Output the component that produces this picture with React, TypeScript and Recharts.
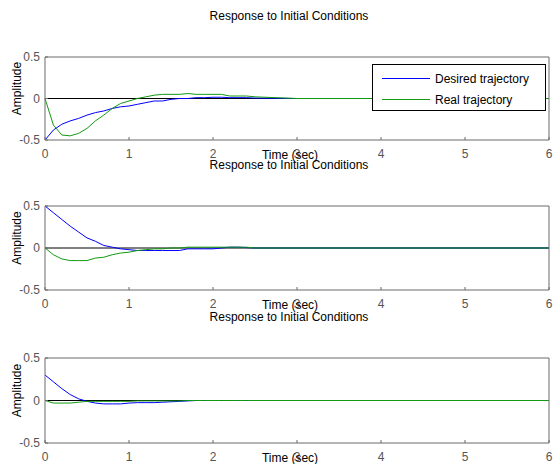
import React from 'react';
import { LineChart, Line, XAxis, YAxis, ReferenceLine } from 'recharts';

const time = [0, 0.1, 0.2, 0.3, 0.4, 0.5, 0.6, 0.7, 0.8, 0.9, 1.0, 1.1, 1.2, 1.3, 1.4, 1.5, 1.6, 1.7, 1.8, 1.9, 2.0, 2.1, 2.2, 2.3, 2.4, 2.5, 3, 4, 5, 6];

const desired1 = [-0.5, -0.38, -0.31, -0.27, -0.24, -0.2, -0.17, -0.15, -0.12, -0.1, -0.09, -0.07, -0.05, -0.03, -0.03, -0.01, 0, 0, 0.01, 0.01, 0.015, 0.015, 0.01, 0.01, 0.01, 0.005, 0, 0, 0, 0];
const real1 = [0, -0.32, -0.44, -0.45, -0.42, -0.36, -0.27, -0.2, -0.12, -0.06, -0.03, 0, 0.02, 0.04, 0.05, 0.05, 0.05, 0.06, 0.05, 0.05, 0.05, 0.05, 0.03, 0.03, 0.03, 0.02, 0, 0, 0, 0];

const desired2 = [0.5, 0.42, 0.34, 0.26, 0.19, 0.12, 0.08, 0.03, 0.01, -0.01, -0.02, -0.03, -0.03, -0.03, -0.03, -0.03, -0.03, -0.01, -0.01, -0.01, -0.01, 0, 0.01, 0.01, 0.005, 0, 0, 0, 0, 0];
const real2 = [0, -0.08, -0.13, -0.15, -0.15, -0.15, -0.12, -0.11, -0.08, -0.06, -0.05, -0.03, -0.02, -0.01, -0.01, 0, 0, 0.01, 0.01, 0.01, 0.01, 0.01, 0.01, 0.01, 0.01, 0, 0, 0, 0, 0];

const desired3 = [0.3, 0.22, 0.14, 0.07, 0.02, -0.01, -0.03, -0.04, -0.04, -0.04, -0.03, -0.025, -0.025, -0.025, -0.02, -0.015, -0.01, -0.005, 0, 0, 0, 0, 0, 0, 0, 0, 0, 0, 0, 0];
const real3 = [0, -0.03, -0.03, -0.03, -0.02, -0.01, -0.01, -0.01, -0.01, -0.01, -0.01, -0.005, -0.005, -0.005, -0.005, -0.005, -0.005, 0, 0, 0, 0, 0, 0, 0, 0, 0, 0, 0, 0, 0];

const xTicks = [0, 1, 2, 3, 4, 5, 6];
const yTicks = [-0.5, 0, 0.5];

const titleText = 'Response to Initial Conditions';
const xLabelText = 'Time (sec)';
const yLabelText = 'Amplitude';
const seriesNames = ['Desired trajectory', 'Real trajectory'];

const BLUE = '#0000ff';
const GREEN = '#119911';
const FRAME = '#6a6a6a';
const FONT = '"Liberation Sans", Arial, Helvetica, sans-serif';

function build(d: number[], r: number[]) {
  return time.map((t, i) => ({ t, desired: d[i], real: r[i] }));
}

const panels = [
  { plotTop: 57, plotBottom: 140, data: build(desired1, real1) },
  { plotTop: 206, plotBottom: 290, data: build(desired2, real2) },
  { plotTop: 358, plotBottom: 443, data: build(desired3, real3) },
];

const TOPM = 57;
const XH = 20;

function Panel({ plotTop, plotBottom, data }: { plotTop: number; plotBottom: number; data: any[] }) {
  const h = plotBottom - plotTop + TOPM + XH;
  return (
    <div style={{ position: 'absolute', left: 0, top: plotTop - TOPM, width: 556, height: h }}>
      <LineChart width={556} height={h} data={data} margin={{ top: TOPM - 1, right: 0, bottom: 0, left: 0 }}>
        <XAxis
          dataKey="t"
          type="number"
          domain={[0, 6]}
          ticks={xTicks}
          interval={0}
          height={XH}
          stroke={FRAME}
          tickSize={-3}
          tickMargin={12}
          tick={{ fill: '#555', fontSize: 12, fontFamily: FONT }}
        />
        <XAxis
          xAxisId="top"
          orientation="top"
          dataKey="t"
          type="number"
          domain={[0, 6]}
          ticks={xTicks}
          height={1}
          stroke={FRAME}
          tickSize={-3}
          tick={false}
        />
        <YAxis
          type="number"
          domain={[-0.5, 0.5]}
          ticks={yTicks}
          interval={0}
          width={45}
          stroke={FRAME}
          tickSize={-3}
          tickMargin={8}
          tick={{ fill: '#555', fontSize: 12, fontFamily: FONT }}
          label={{
            value: yLabelText,
            content: (p: any) => {
              const vb = p.viewBox || {};
              const cx = 17;
              const cy = vb.y + vb.height / 2 - 10;
              return (
                <text x={cx} y={cy} transform={`rotate(-90 ${cx} ${cy})`} textAnchor="middle" dominantBaseline="central" fontSize={12} fontFamily={FONT} fill="#000">
                  {yLabelText}
                </text>
              );
            },
          }}
        />
        <YAxis
          yAxisId="right"
          orientation="right"
          type="number"
          domain={[-0.5, 0.5]}
          ticks={yTicks}
          width={7}
          stroke={FRAME}
          tickSize={-3}
          tick={false}
        />
        <ReferenceLine y={0} stroke="#000" strokeWidth={1} />
        <Line type="linear" dataKey="desired" stroke={BLUE} strokeWidth={1} dot={false} isAnimationActive={false} />
        <Line type="linear" dataKey="real" stroke={GREEN} strokeWidth={1} dot={false} isAnimationActive={false} />
      </LineChart>
    </div>
  );
}

function TextAt({ x, y, children }: { x: number; y: number; children: React.ReactNode }) {
  return (
    <div
      style={{
        position: 'absolute',
        left: x - 150,
        top: y - 8,
        width: 300,
        height: 16,
        lineHeight: '16px',
        textAlign: 'center',
        fontSize: 12,
        fontFamily: FONT,
        color: '#000',
        whiteSpace: 'nowrap',
        pointerEvents: 'none',
      }}
    >
      {children}
    </div>
  );
}

export default function App() {
  return (
    <div style={{ position: 'absolute', left: 0, top: 0, width: 556, height: 464, background: '#fff', overflow: 'hidden' }}>
      {panels.map((p, i) => (
        <Panel key={i} {...p} />
      ))}
      {panels.map((p, i) => (
        <TextAt key={'t' + i} x={289} y={p.plotTop - 41}>{titleText}</TextAt>
      ))}
      {panels.map((p, i) => (
        <TextAt key={'x' + i} x={290} y={p.plotBottom + 15}>{xLabelText}</TextAt>
      ))}
      <div
        style={{
          position: 'absolute',
          left: 372,
          top: 64,
          width: 172,
          height: 45,
          border: '1px solid #000',
          background: '#fff',
          fontFamily: FONT,
          fontSize: 12,
        }}
      >
        {seriesNames.map((name, i) => (
          <div key={name} style={{ position: 'absolute', left: 0, top: 6 + i * 21, height: 16, width: 172 }}>
            <div style={{ position: 'absolute', left: 9, top: 7, width: 48, height: 1, background: i === 0 ? BLUE : GREEN }} />
            <div style={{ position: 'absolute', left: 62, top: 0, lineHeight: '16px', whiteSpace: 'nowrap', color: '#000' }}>{name}</div>
          </div>
        ))}
      </div>
    </div>
  );
}
